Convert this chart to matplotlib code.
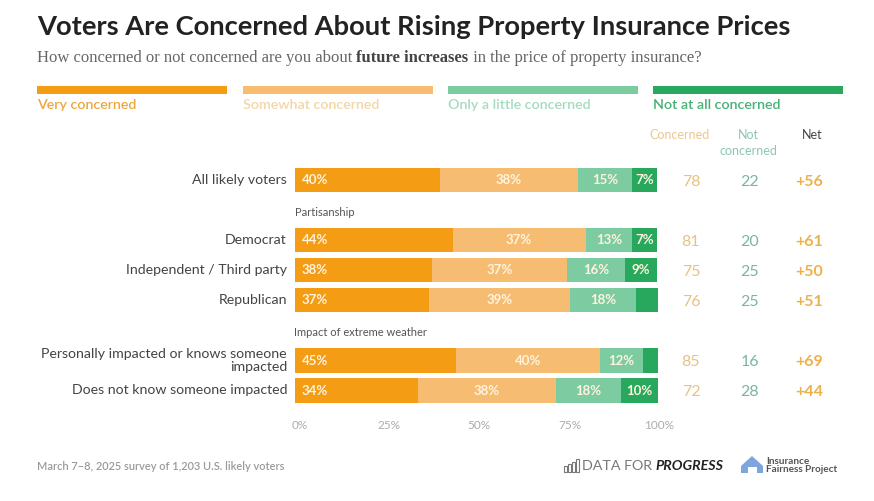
"""
Stacked bars: voter concern about property insurance prices.
"""
import matplotlib
matplotlib.use('Agg')
import matplotlib.pyplot as plt
from matplotlib.patches import Rectangle, Polygon
from matplotlib.transforms import ScaledTranslation

W, H = 874, 501

# ── data ─────────────────────────────────────────────────────────────────────
ROWS = ["All likely voters", "Democrat", "Independent / Third party", "Republican",
        "Personally impacted or knows someone\nimpacted", "Does not know someone impacted"]
SERIES = ["Very concerned", "Somewhat concerned", "Only a little concerned", "Not at all concerned"]
VERY     = [40, 44, 38, 37, 45, 34]
SOMEWHAT = [38, 37, 37, 39, 40, 38]
LITTLE   = [15, 13, 16, 18, 12, 18]
NOT_ALL  = [7, 7, 9, 6, 4, 10]
HIDE_BELOW = 7   # the source leaves the thinnest segments unlabelled
CONCERNED = [78, 81, 75, 76, 85, 72]
NOT_CONC  = [22, 20, 25, 25, 16, 28]
NET       = [56, 61, 50, 51, 69, 44]
XTICKS = [0, 25, 50, 75, 100]
GROUPS = ["Partisanship", "Impact of extreme weather"]

# ── layout (pixels of the 874x501 picture) ───────────────────────────────────
ROW_Y = [180, 240, 270, 300, 360.5, 390.5]
GROUP_Y = [213, 333]
LEGEND_X = [37, 243, 448, 653]
COL_X = [691, 750, 809]
COLORS = ['#F39C14', '#F6BD72', '#7DCBA1', '#27A85C']
LEGEND_TXT = ['#EDA73A', '#F4D5A6', '#A5DCBE', '#45B276']

plt.rcParams['font.family'] = ['Lato', 'DejaVu Sans']

fig = plt.figure(figsize=(W / 100, H / 100), dpi=100, facecolor='white')

# overlay in picture pixels, for the text and furniture round the bars
bg = fig.add_axes([0, 0, 1, 1])
bg.set_xlim(0, W)
bg.set_ylim(H, 0)
bg.axis('off')

# bars: x in percent, y in picture pixels
x0, x1, y0, y1 = 294.5, 657.5, 160, 410
ax = fig.add_axes([x0 / W, 1 - y1 / H, (x1 - x0) / W, (y1 - y0) / H])
ax.set_xlim(0, 100)
ax.set_ylim(y1, y0)
ax.patch.set_alpha(0)
for s in ax.spines.values():
    s.set_visible(False)
ax.set_yticks([])

for i, y in enumerate(ROW_Y):
    vals = [VERY[i], SOMEWHAT[i], LITTLE[i], NOT_ALL[i]]
    total = sum(vals)
    left = 0
    for j, v in enumerate(vals):
        w = v / total * 100
        ax.barh(y, w, left=left, height=24.5, color=COLORS[j], linewidth=0)
        if v >= HIDE_BELOW:
            if j == 0:
                ax.text(left + 2, y + 0.5, f"{v}%", color='#FFF3DF', fontsize=9.5,
                        fontweight='bold', ha='left', va='center')
            else:
                ax.text(left + w / 2, y + 0.5, f"{v}%", color='#FFF3DF', fontsize=9.5,
                        fontweight='bold', ha='center', va='center')
        left += w
    bg.text(287, y, ROWS[i], color='#444444', fontsize=10.2, ha='right', va='center',
            linespacing=1.1)
    bg.text(COL_X[0], y + 1.5, str(CONCERNED[i]), color='#E8C27F', fontsize=11.5,
            ha='center', va='center')
    bg.text(COL_X[1], y + 1.5, str(NOT_CONC[i]), color='#78B79C', fontsize=11.5,
            ha='center', va='center')
    bg.text(COL_X[2], y + 1.5, f"+{NET[i]}", color='#EFB04C', fontsize=11.5,
            fontweight='bold', ha='center', va='center')

ax.set_xticks(XTICKS)
ax.set_xticklabels([f"{t}%" for t in XTICKS], color='#ABABAB', fontsize=8.5)
ax.tick_params(axis='x', length=0, pad=7)
# tick labels sit a little to the right of their true positions
for lab, dx in zip(ax.get_xticklabels(), [5, 4, 3, 3.5, 1.5]):
    lab.set_transform(lab.get_transform() + ScaledTranslation(dx / 100, 0, fig.dpi_scale_trans))

for name, y in zip(GROUPS, GROUP_Y):
    bg.text(294.5, y, name, color='#555555', fontsize=8, ha='left', va='center')

# legend bands
for name, x, c, tc in zip(SERIES, LEGEND_X, COLORS, LEGEND_TXT):
    bg.add_patch(Rectangle((x, 86), 190, 8, color=c, linewidth=0))
    bg.text(x, 105, name, color=tc, fontsize=10.3, fontweight='semibold', ha='left', va='center')

# column heads
bg.text(679, 135, "Concerned", color='#E8C88F', fontsize=9, ha='center', va='center')
bg.text(748, 135, "Not", color='#8CC7AE', fontsize=9, ha='center', va='center')
bg.text(748, 151, "concerned", color='#8CC7AE', fontsize=9, ha='center', va='center')
bg.text(812, 135, "Net", color='#444444', fontsize=9, ha='center', va='center')


def chain(x, y, parts, **kw):
    # draw text pieces one after another, each starting where the last ended
    r = fig.canvas.get_renderer()
    for s, extra in parts:
        t = bg.text(x, y, s, ha='left', va='center', **{**kw, **extra})
        x = t.get_window_extent(r).x1
    return x


# titles
bg.text(37, 27, "Voters Are Concerned About Rising Property Insurance Prices", color='#222222',
        fontsize=19.7, fontweight='bold', ha='left', va='center')
chain(37, 58, [("How concerned or not concerned are you about\u00a0", {}),
               ("future increases", {'fontweight': 'bold', 'color': '#444444'}),
               ("\u00a0in the price of property insurance?", {})],
      family='Liberation Serif', fontsize=12, color='#666666')

# footer
bg.text(37, 466, "March 7\u20138, 2025 survey of 1,203 U.S. likely voters", color='#9A9A9A',
        fontsize=7.9, fontweight='semibold', ha='left', va='center')

# data for progress mark
for bx, bh in zip([564, 568, 572, 576], [6, 8, 10, 13]):
    bg.add_patch(Rectangle((bx, 472 - bh), 3, bh, facecolor='none', edgecolor='#777777', linewidth=0.8))
chain(582, 466, [("DATA FOR\u00a0", {'color': '#777777'}),
                 ("PROGRESS", {'color': '#222222', 'fontweight': 'bold', 'style': 'italic'})],
      fontsize=10.3)

# insurance fairness mark
bg.add_patch(Polygon([(741, 466), (752, 456), (763, 466), (763, 473), (757, 473), (757, 467),
                      (748, 467), (748, 473), (741, 473)], closed=True, color='#7FA6DC', linewidth=0))
bg.text(766, 461, "Insurance", color='#555555', fontsize=7.2, fontweight='bold', ha='left', va='center')
bg.text(766, 470, "Fairness Project", color='#555555', fontsize=7.2, fontweight='bold', ha='left', va='center')

fig.savefig('out.png', dpi=100)
